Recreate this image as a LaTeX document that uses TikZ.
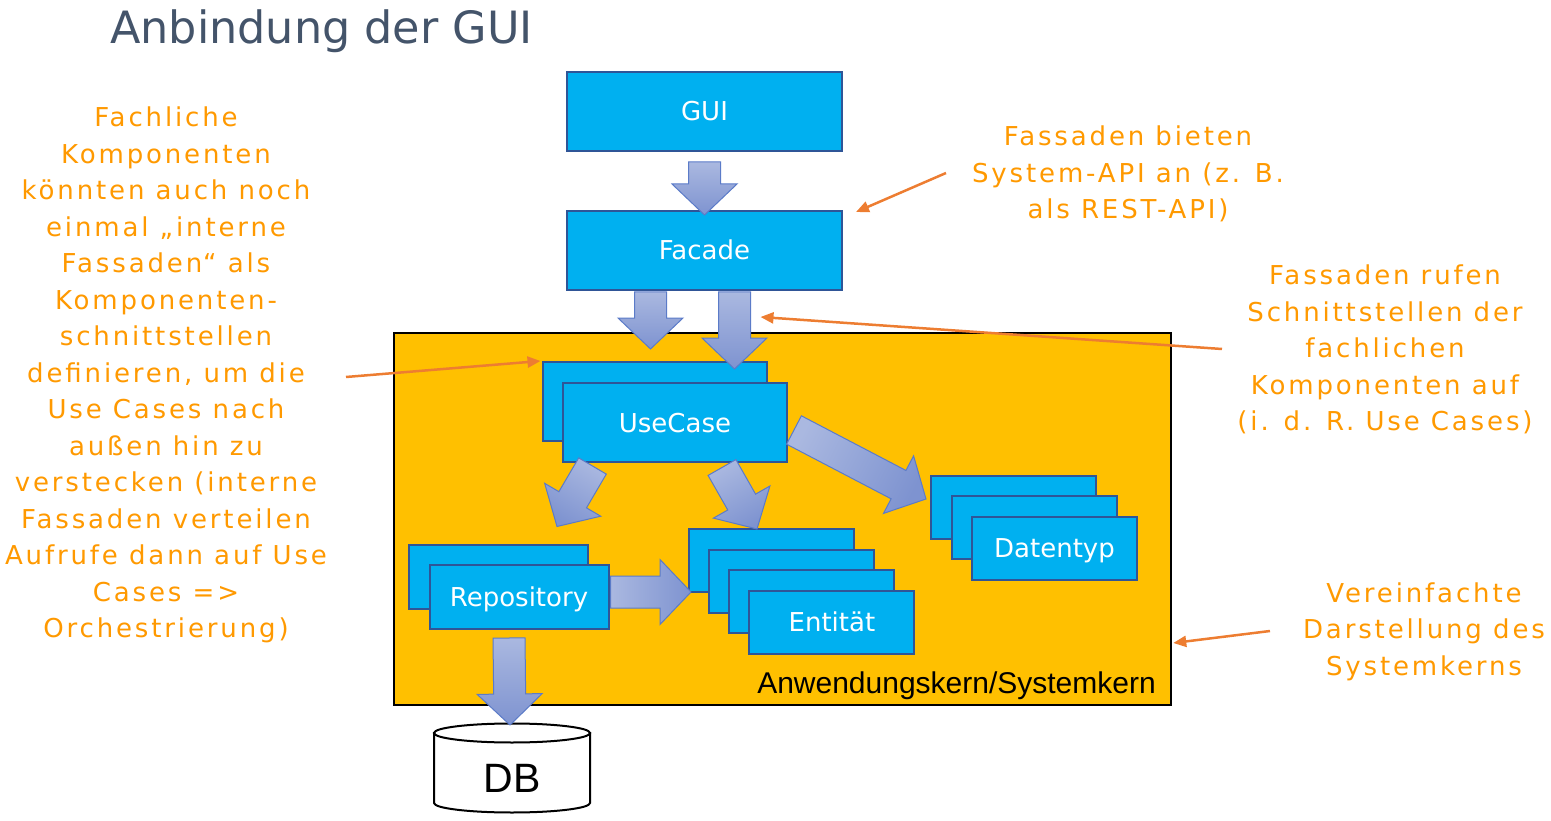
\documentclass[tikz,border=0pt]{standalone}
\usepackage{fontspec}
\setmainfont{DejaVu Sans}
\newfontfamily\notefont[LetterSpace=11]{DejaVu Sans}
\newfontfamily\arialfont{Liberation Sans}
\usetikzlibrary{calc,positioning,arrows.meta}

\definecolor{compblue}{HTML}{00B0F0}
\definecolor{compline}{HTML}{2F5597}
\definecolor{coreorange}{HTML}{FFC000}
\definecolor{notetext}{HTML}{FF9900}
\definecolor{notearrow}{HTML}{ED7D31}
\definecolor{fatlight}{HTML}{AAB8E0}
\definecolor{fatdark}{HTML}{7E93D0}
\definecolor{fatline}{HTML}{5B7BC8}
\definecolor{titlegray}{HTML}{44546A}

\tikzset{
  comp/.style={draw=compline, fill=compblue, line width=2pt, text=white, inner sep=0pt,
    text height=19pt, text depth=0pt, font=\fontsize{26}{30}\selectfont},
  note/.style={text=notetext, align=center, inner sep=0pt,
    font=\notefont\fontsize{26}{36.5}\selectfont},
  note arrow/.style={draw=notearrow, line width=2.5pt, -{Triangle[length=13pt,width=11pt]}},
  fat arrow/.style={draw=fatline, line width=1pt, top color=fatlight, bottom color=fatdark},
}

% block arrow from #2 to #3, #1 = shading angle
\newcommand{\fatarrow}[3][0]{%
  \coordinate (fa-s) at #2;
  \coordinate (fa-e) at #3;
  \coordinate (fa-h) at ($(fa-e)!31pt!(fa-s)$);
  \draw[fat arrow, shading angle=#1] ($(fa-s)!16pt!90:(fa-e)$) -- ($(fa-h)!16pt!90:(fa-e)$)
    -- ($(fa-h)!32.5pt!90:(fa-e)$) -- (fa-e) -- ($(fa-h)!32.5pt!-90:(fa-e)$)
    -- ($(fa-h)!16pt!-90:(fa-e)$) -- ($(fa-s)!16pt!-90:(fa-e)$) -- cycle;
}

\begin{document}
\begin{tikzpicture}[x=1pt, y=-1pt]
	\useasboundingbox (0,0) rectangle (1551,821);

	\node[anchor=base west, inner sep=0pt, text=titlegray, font=\fontsize{44.5}{50}\selectfont] (title) at (110,44) {Anbindung der GUI};

	\node[comp, minimum width=275pt, minimum height=79pt] (gui) at (704.5,111.5) {GUI};
	\node[comp, minimum width=275pt, minimum height=79pt] (facade) at (704.5,250.5) {Facade};

	\node[draw=black, fill=coreorange, line width=2.5pt, inner sep=0pt, minimum width=777pt, minimum height=372pt] (core) at (782.5,519) {};
	\node[anchor=base east, inner sep=0pt, font=\arialfont\fontsize{30}{34}\selectfont] (corelabel) at (1156,693) {Anwendungskern/Systemkern};

	\foreach \i in {0,1}
		\node[comp, minimum width=224pt, minimum height=79pt] (uc\i) at ($(654.5,401.5)+(\i*20.5,\i*21)$) {UseCase};
	\foreach \i in {0,1}
		\node[comp, minimum width=179pt, minimum height=64pt] (rep\i) at ($(498,576.5)+(\i*21,\i*20.5)$) {Repository};
	\foreach \i in {0,...,3}
		\node[comp, minimum width=165pt, minimum height=63pt] (ent\i) at ($(771,560.5)+(\i*20.3,\i*20.5)$) {Entität};
	\foreach \i in {0,1,2}
		\node[comp, minimum width=165pt, minimum height=63pt] (dat\i) at ($(1013.5,507.5)+(\i*20.5,\i*20.3)$) {Datentyp};

	\draw[line width=2pt, fill=white] (434,733) -- (434,803) arc[start angle=180, end angle=360, x radius=78pt, y radius=9.5pt] -- (590,733) -- cycle;
	\draw[line width=2pt, fill=white] (512,733) ellipse [x radius=78pt, y radius=9.5pt];
	\node[font=\arialfont\fontsize{41}{44}\selectfont] (db) at (512,778) {DB};

	\fatarrow{($(gui.south)+(0,10)$)}{($(facade.north)+(0,5)$)}
	\fatarrow{($(facade.south)+(-54,1)$)}{($(uc0.north)+(-4,-12)$)}
	\fatarrow{($(facade.south)+(30,1)$)}{($(uc0.north)+(80,8)$)}
	\fatarrow[-30]{($(uc1.south)+(-82.5,3)$)}{($(rep0.north)+(59,-17)$)}
	\fatarrow[29]{($(uc1.south)+(47,4.5)$)}{($(ent0.north)+(-14,1)$)}
	\fatarrow[63]{($(uc1.east)+(6,7.5)$)}{($(dat0.west)+(-4,-8.5)$)}
	\fatarrow[90]{($(rep1.east)+(1,-5)$)}{($(ent0.west)+(3.5,31.5)$)}
	\fatarrow{($(rep1.south)+(-10,8)$)}{($(db)+(-2,-53)$)}

	\node[note] (nfach) at (166,375) {Fachliche\\Komponenten\\könnten auch noch\\einmal „interne\\Fassaden“ als\\Komponenten-\\schnittstellen\\definieren, um die\\Use Cases nach\\außen hin zu\\verstecken (interne\\Fassaden verteilen\\Aufrufe dann auf Use\\Cases =>\\Orchestrierung)};
	\node[note] (nbieten) at (1128,174) {Fassaden bieten\\System-API an (z. B.\\als REST-API)};
	\node[note] (nrufen) at (1385,349.5) {Fassaden rufen\\Schnittstellen der\\fachlichen\\Komponenten auf\\(i. d. R. Use Cases)};
	\node[note] (nverein) at (1424,631.5) {Vereinfachte\\Darstellung des\\Systemkerns};

	\draw[note arrow] (946,173) -- ($(facade.north east)+(13,2)$);
	\draw[note arrow] (1222,349) -- ($(facade.south)+(56,26)$);
	\draw[note arrow] (346,377) -- ($(uc0.north west)+(-1,0)$);
	\draw[note arrow] (1270,631) -- ($(core.east)+(1,124)$);
\end{tikzpicture}
\end{document}
